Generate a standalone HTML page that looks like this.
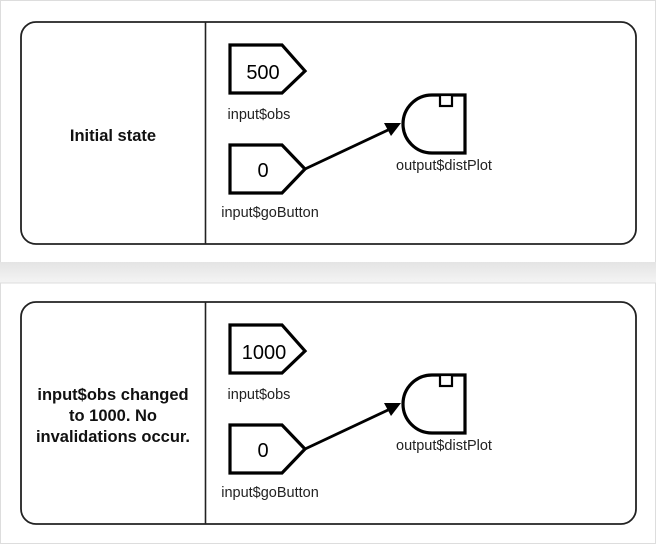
<!DOCTYPE html>
<html><head><meta charset="utf-8"><style>
html,body{margin:0;padding:0;background:#fff;width:656px;height:544px;overflow:hidden}
svg{display:block}
text{font-family:"Liberation Sans",Arial,sans-serif}
</style></head><body>
<svg width="656" height="544" viewBox="0 0 656 544" xmlns="http://www.w3.org/2000/svg">
<defs>
<linearGradient id="band" x1="0" y1="0" x2="0" y2="1">
<stop offset="0" stop-color="#e4e4e4"/><stop offset="1" stop-color="#f4f4f4"/>
</linearGradient>
<g id="panel">
<rect x="21" y="22" width="615" height="222" rx="15" fill="#fff" stroke="#222" stroke-width="1.8"/>
<line x1="205.5" y1="22" x2="205.5" y2="244" stroke="#222" stroke-width="1.6"/>
<path d="M230,45 H282 L305,71 L282,93 H230 Z" fill="#fff" stroke="#000" stroke-width="3.2"/>
<path d="M230,145 H282 L305,169 L282,193 H230 Z" fill="#fff" stroke="#000" stroke-width="3.2"/>
<text x="263" y="177" font-size="20" text-anchor="middle">0</text>
<text x="259" y="119" font-size="14.5" text-anchor="middle" fill="#222">input$obs</text>
<text x="270" y="217" font-size="14.5" text-anchor="middle" fill="#222">input$goButton</text>
<path d="M432,95 H465 V153 H432 A29,29 0 0 1 432,95 Z" fill="#fff" stroke="#000" stroke-width="3.2"/>
<rect x="440" y="95" width="12" height="11" fill="#fff" stroke="#000" stroke-width="2.2"/>
<text x="444" y="170" font-size="14.5" text-anchor="middle" fill="#222">output$distPlot</text>
<line x1="305" y1="169" x2="388" y2="130" stroke="#000" stroke-width="2.8"/>
<path d="M401,123 L384,123 L391,136 Z" fill="#000"/>
</g>
</defs>
<rect x="0.5" y="0.5" width="655" height="262" fill="#fff" stroke="#ddd"/>
<rect x="0" y="262" width="656" height="21" fill="url(#band)"/>
<rect x="0.5" y="283" width="655" height="260.5" fill="#fff" stroke="#ddd"/>
<use href="#panel"/>
<text x="263" y="79" font-size="20" text-anchor="middle">500</text>
<text x="113" y="141" font-size="16.5" font-weight="bold" text-anchor="middle" fill="#111">Initial state</text>
<use href="#panel" transform="translate(0,280)"/>
<text x="264" y="359" font-size="20" text-anchor="middle">1000</text>
<text x="113" y="400" font-size="16.5" font-weight="bold" text-anchor="middle" fill="#111">input$obs changed</text>
<text x="113" y="421" font-size="16.5" font-weight="bold" text-anchor="middle" fill="#111">to 1000. No</text>
<text x="113" y="442" font-size="16.5" font-weight="bold" text-anchor="middle" fill="#111">invalidations occur.</text>
</svg>
</body></html>
